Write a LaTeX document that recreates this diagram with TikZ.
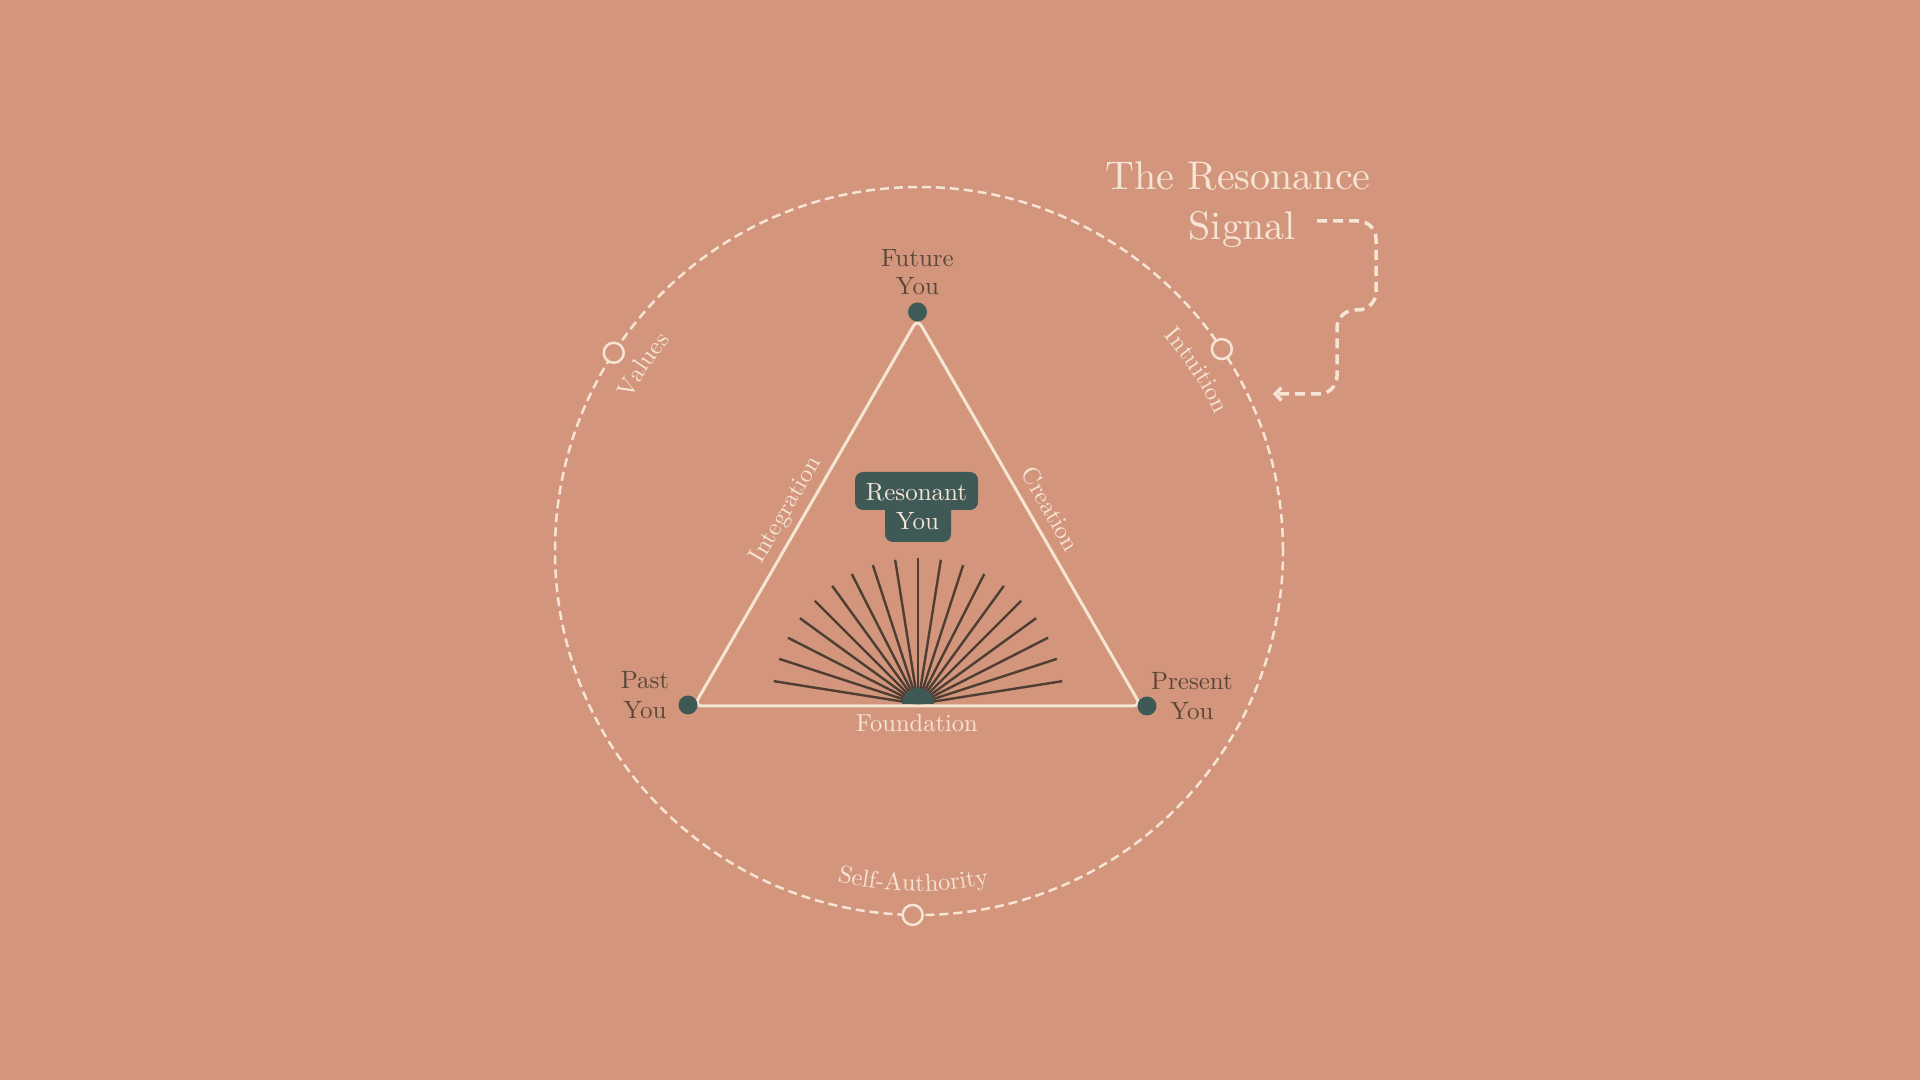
\documentclass[tikz,border=0pt]{standalone}
\usepackage{fontspec}
\setmainfont{lmroman10-regular}[Extension=.otf]
\usetikzlibrary{calc,arrows.meta,decorations.text}
\definecolor{bgc}{HTML}{D3967D}
\definecolor{cream}{HTML}{F6E4D4}
\definecolor{tealc}{HTML}{3F5957}
\definecolor{darktxt}{HTML}{5A4738}
\definecolor{raycol}{HTML}{4D3D33}
\newcommand\clabfont{\fontsize{24.5}{24.5}\selectfont}
\begin{document}
\begin{tikzpicture}[x=1pt,y=1pt,
  labst/.style={text=darktxt, font=\fontsize{25}{29}\selectfont, inner sep=0pt, anchor=base},
  elabst/.style={text=cream, font=\fontsize{24.5}{28}\selectfont, inner sep=0pt, anchor=base},
  titst/.style={text=cream, font=\fontsize{40}{48}\selectfont, inner sep=0pt, anchor=base},
  vdotst/.style={circle, fill=tealc, minimum size=19pt, inner sep=0pt},
  hollowst/.style={circle, draw=cream, line width=2.5pt, fill=bgc, minimum size=20pt, inner sep=0pt},
  raystyle/.style={draw=raycol, line width=2.4pt},
  boxst/.style={fill=tealc, rounded corners=8pt, inner sep=0pt},
  rtext/.style={text=cream, font=\fontsize{25}{29}\selectfont, inner sep=0pt, anchor=base},
  circtext/.style={decorate, decoration={text along path, text align=center, text color=cream}}
]
\useasboundingbox (0,0) rectangle (1920,1080);
\fill[bgc] (0,0) rectangle (1920,1080);

% outer dashed circle
\coordinate (C) at (919,529);
\draw[cream, line width=2.5pt, dash pattern=on 9pt off 5pt] (C) circle[radius=364];

% circle labels
\path[circtext, decoration={text={|\clabfont|Values}}]
  ($(C)+(166:326)$) arc[start angle=166, end angle=126, radius=326];
\path[circtext, decoration={text={|\clabfont|Intuition}}]
  ($(C)+(56:326)$) arc[start angle=56, end angle=10, radius=326];
\path[circtext, decoration={text={|\clabfont|Self-Authority}}]
  ($(C)+(236:340)$) arc[start angle=236, end angle=302, radius=340];

% hollow markers on circle
\node[hollowst] (mval) at ($(C)+(147:364)$) {};
\node[hollowst] (mint) at ($(C)+(33.7:364)$) {};
\node[hollowst] (mself) at ($(C)+(269:364)$) {};

% sunburst
\coordinate (S) at (918,376);
\foreach \a in {9,18,...,171} \draw[raystyle] (S) -- ++(\a:146);
\fill[tealc] ($(S)+(16,0)$) arc[start angle=0, end angle=180, radius=16] -- cycle;

% triangle
\coordinate (BL) at (694,374);
\coordinate (BR) at (1141,374);
\coordinate (AP) at (917.5,761);
\draw[cream, line width=3pt, rounded corners=8pt, line join=round] (BL) -- (AP) -- (BR) -- cycle;

% vertex dots
\node[vdotst] (dfut) at (917.5,768) {};
\node[vdotst] (dpast) at (688,375) {};
\node[vdotst] (dpres) at (1147,374) {};

% vertex labels
\node[labst] (futA) at (917.5,813) {Future};
\node[labst] (futB) at (917.5,785) {You};
\node[labst] (pastA) at (645,391) {Past};
\node[labst] (pastB) at (645,361) {You};
\node[labst] (presA) at (1192,390) {Present};
\node[labst] (presB) at (1192,360) {You};

% edge labels
\node[elabst, rotate=60] (integ) at ($($(BL)!0.483!(AP)$)+(150:12)$) {Integration};
\node[elabst, rotate=-60] (creat) at ($($(BR)!0.483!(AP)$)+(30:12)$) {Creation};
\node[elabst] (found) at (917,348) {Foundation};

% resonant you box
\node[boxst, minimum width=123pt, minimum height=38pt] (resbox) at (916.5,589) {};
\node[boxst, minimum width=66pt, minimum height=42pt] (youbox) at (918,559) {};
\node[rtext] (resA) at (916.5,579) {Resonant};
\node[rtext] (resB) at (917.5,550) {You};

% title
\node[titst] (titA) at (1238,890) {The Resonance};
\node[titst] (titB) at (1242,840) {Signal};

% dashed signal arrow
\coordinate (arS) at (1317,859);
\coordinate (arE) at (1273,686);
\draw[cream, line width=3.5pt, dash pattern=on 10pt off 6pt, rounded corners=18pt,
      -{Straight Barb[length=6pt, width=13pt]}]
  (arS) -- (1376,859) -- (1376,770) -- (1337,770) -- (1337,686) -- (arE);
\end{tikzpicture}
\end{document}
